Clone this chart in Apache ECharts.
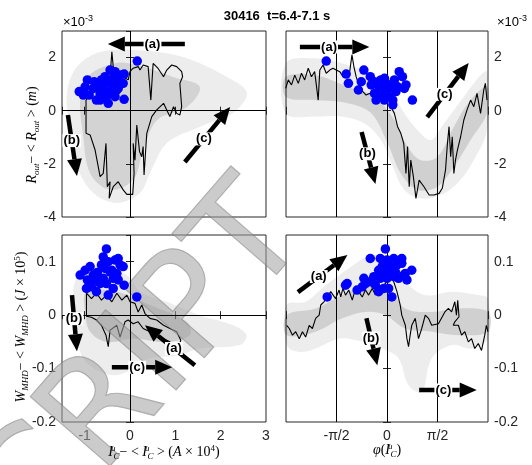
<!DOCTYPE html>
<html>
<head>
<meta charset="utf-8">
<script src="https://cdn.jsdelivr.net/npm/echarts@6/dist/echarts.min.js"></script>
<style>
  html, body { margin: 0; padding: 0; background: #fff; }
  #main { width: 532px; height: 465px; }
</style>
</head>
<body>
<div id="main"></div>
<script>
var PI = Math.PI;

// ---- top left: R_out vs I_C (x in A*1e4, y in m*1e-3)
var rCloudI = [[-1.17,1.65],[-0.66,2.21],[0.22,2.28],[1.17,2.02],[2.14,1.27],[2.58,0.67],[2.27,-0.09],[1.54,-0.61],[0.82,-1.21],[0.44,-2.35],[0.22,-3.1],[-0.29,-3.47],[-0.81,-3.1],[-1.17,-2.1],[-1.32,-0.85],[-1.39,0.67]];
var rCoreI = [[-0.95,1.27],[-0.29,1.8],[0.29,1.65],[0.95,1.27],[1.54,0.9],[1.26,0.14],[0.6,-0.35],[0.29,-1.48],[0.07,-2.6],[-0.44,-2.98],[-0.88,-2.35],[-1.04,-0.85],[-1.1,0.4]];
var rLineI = [[-0.97,0.40],[-0.97,-0.85],[-0.88,-0.91],[-0.77,-1.48],[-0.70,-2.11],[-0.66,-2.48],[-0.59,-2.36],[-0.53,-1.23],[-0.50,-2.86],[-0.44,-2.67],[-0.46,-3.30],[-0.37,-2.86],[-0.26,-2.67],[-0.15,-2.98],[-0.07,-3.15],[0.06,-3.15],[0.09,-2.36],[0.07,-1.23],[0.11,-1.86],[0.15,-0.54],[0.21,-1.54],[0.26,-1.73],[0.29,-1.35],[0.31,-2.42],[0.37,-0.85],[0.48,-0.22],[0.59,0.03],[0.74,0.28],[0.81,0.03],[0.88,-0.22],[0.96,0.15],[1.03,-0.10],[1.10,-0.16],[1.14,0.15],[1.10,1.03],[1.16,1.28],[1.14,1.47],[1.03,1.66],[0.92,1.72],[0.81,1.53],[0.74,1.28],[0.62,1.59],[0.51,1.78],[0.46,0.40],[0.40,1.66],[0.29,1.72],[0.22,1.53],[0.18,1.66],[0.07,1.60],[0.00,1.47],[-0.04,1.16],[-0.15,1.28],[-0.29,1.47],[-0.37,1.66],[-0.40,2.22],[-0.44,1.28],[-0.55,1.03],[-0.66,0.90],[-0.74,0.78],[-0.88,0.59],[-0.97,0.40]];
var rDotsI = [[0.16,1.87],[-1.12,0.72],[-0.99,0.90],[-0.94,1.16],[-0.90,0.59],[-0.81,0.84],[-0.74,0.40],[-0.70,1.03],[-0.63,1.16],[-0.59,0.78],[-0.55,1.28],[-0.52,0.53],[-0.44,1.53],[-0.40,0.97],[-0.44,0.72],[-0.48,0.28],[-0.33,1.47],[-0.29,1.16],[-0.26,0.84],[-0.22,1.34],[-0.13,1.38],[-0.15,1.03],[-0.13,0.43],[-0.33,0.53],[-0.66,0.65],[-0.79,1.09],[-1.03,0.59],[-0.37,1.22],[-0.52,1.03],[-0.29,0.78],[-0.66,0.40]];
var rArrowsI = [[1.21,2.51,-0.49,2.51],[-1.37,-0.16,-1.17,-2.46],[1.21,-1.93,2.21,0.14]];

// ---- top right: R_out vs phase (x in rad)
var rCloudPhi = [[-3.15,1.78],[-2.25,1.97],[-1.22,1.72],[-0.39,1.34],[0.12,0.78],[0.54,-0.10],[0.95,-0.73],[1.36,-1.10],[1.77,-0.48],[2.39,0.53],[2.91,1.34],[3.11,1.47],[3.11,-0.73],[2.70,-1.86],[2.19,-2.73],[1.67,-3.17],[1.05,-3.30],[0.54,-2.98],[0.18,-2.11],[-0.19,-1.10],[-0.70,-0.48],[-1.42,-0.22],[-2.25,-0.22],[-3.15,-0.10]];
var rCorePhi = [[-3.15,1.28],[-2.25,1.34],[-1.22,0.90],[-0.39,0.53],[0.23,-0.35],[0.64,-1.35],[1.05,-1.86],[1.57,-1.73],[2.08,-0.60],[2.60,0.40],[3.11,0.90],[3.11,-0.10],[2.60,-1.10],[2.08,-2.11],[1.57,-2.86],[0.95,-2.98],[0.43,-2.36],[0.02,-1.23],[-0.49,-0.10],[-1.22,0.28],[-2.25,0.40],[-3.15,0.53]];
var rLinePhi = [[-3.15,0.84],[-3.07,1.16],[-2.97,0.97],[-2.87,1.34],[-2.76,1.03],[-2.66,1.41],[-2.56,1.16],[-2.45,1.60],[-2.35,1.28],[-2.25,1.47],[-2.14,0.40],[-2.09,1.53],[-1.99,1.72],[-1.89,1.41],[-1.78,1.53],[-1.68,1.60],[-1.58,1.53],[-1.47,1.47],[-1.37,1.28],[-1.27,1.34],[-1.16,1.47],[-1.09,2.10],[-1.03,1.66],[-0.96,1.28],[-0.86,0.90],[-0.75,0.72],[-0.65,0.59],[-0.55,0.65],[-0.44,0.59],[-0.29,0.72],[-0.13,0.78],[0.02,0.84],[0.12,0.15],[0.23,-0.10],[0.33,-0.60],[0.43,-0.85],[0.52,-1.23],[0.59,-2.36],[0.64,-1.35],[0.69,-2.86],[0.74,-1.86],[0.82,-2.48],[0.90,-3.30],[1.00,-2.61],[1.15,-2.86],[1.31,-3.17],[1.46,-3.17],[1.62,-3.11],[1.72,-2.92],[1.82,-2.23],[1.88,-1.23],[1.93,-0.60],[1.98,-1.73],[2.03,-0.98],[2.08,-2.36],[2.13,-1.86],[2.19,-1.48],[2.29,-0.98],[2.39,-0.35],[2.49,0.03],[2.60,0.40],[2.70,0.15],[2.80,0.65],[2.91,-0.10],[3.01,0.78],[3.06,1.03],[3.11,0.40]];
var rDotsPhi = [[-1.89,1.87],[-1.27,1.38],[-1.20,1.03],[-0.89,0.78],[-0.80,1.09],[-0.72,1.53],[-0.52,1.28],[-0.49,0.97],[-0.39,0.65],[-0.34,0.40],[-0.24,0.84],[-0.19,1.16],[-0.13,0.90],[-0.08,1.22],[-0.03,1.03],[0.02,0.78],[0.07,0.53],[0.12,0.97],[0.18,0.40],[0.23,1.16],[0.28,0.72],[0.38,1.47],[0.48,1.28],[0.54,0.84],[0.59,0.97],[0.79,0.40],[0.18,0.22],[-0.08,0.40],[-0.29,0.47],[-0.19,0.59],[-0.03,0.65],[-0.39,1.09],[0.33,0.90]];
var rArrowsPhi = [[-2.71,2.40,-0.55,2.40],[-0.79,-0.80,-0.36,-2.76],[1.25,-0.24,2.54,1.80]];

// ---- bottom left: W_MHD vs I_C (y in J*1e5)
var wCloudI = [[-1.18,0.069],[-0.66,0.094],[-0.07,0.075],[0.22,0.044],[0.81,0.025],[1.54,0.0],[2.28,-0.019],[2.57,-0.0375],[2.43,-0.056],[1.54,-0.0625],[1.10,-0.075],[0.44,-0.081],[0.07,-0.10],[-0.29,-0.1125],[-0.66,-0.106],[-1.03,-0.081],[-1.18,-0.0375],[-1.25,0.0125]];
var wCoreI = [[-0.96,0.044],[-0.29,0.044],[0.44,0.019],[1.25,-0.0125],[1.32,-0.0375],[0.81,-0.05],[0.07,-0.044],[-0.52,-0.05],[-0.88,-0.031],[-0.99,0.006]];
var wLineI = [[-0.96,0.041],[-0.85,0.031],[-0.74,0.041],[-0.63,0.028],[-0.52,0.0375],[-0.40,0.025],[-0.29,0.041],[-0.18,0.028],[-0.07,0.0375],[0.00,0.025],[0.11,0.022],[0.18,0.006],[0.26,0.019],[0.33,0.003],[0.44,-0.006],[0.59,-0.009],[0.74,-0.019],[0.88,-0.025],[1.03,-0.031],[1.12,-0.047],[1.07,-0.059],[0.99,-0.066],[0.88,-0.05],[0.74,-0.044],[0.59,-0.0375],[0.44,-0.031],[0.29,-0.025],[0.18,-0.0125],[0.07,-0.016],[-0.04,-0.009],[-0.11,-0.0125],[-0.22,-0.041],[-0.29,-0.019],[-0.44,-0.028],[-0.48,-0.059],[-0.53,-0.0375],[-0.63,-0.019],[-0.74,-0.009],[-0.85,-0.004],[-0.96,-0.002],[-0.96,0.041]];
var wDotsI = [[-0.52,0.124],[-0.59,0.109],[-1.10,0.075],[-0.99,0.084],[-0.88,0.091],[-0.94,0.066],[-0.81,0.075],[-0.72,0.080],[-0.74,0.044],[-0.63,0.094],[-0.55,0.0875],[-0.48,0.10],[-0.44,0.081],[-0.37,0.069],[-0.33,0.103],[-0.26,0.106],[-0.22,0.094],[-0.15,0.091],[-0.13,0.056],[-0.26,0.066],[-0.37,0.05],[-0.48,0.0375],[-0.66,0.059],[-0.85,0.053],[-0.77,0.066],[-0.59,0.069],[-0.52,0.059],[-0.96,0.05],[0.15,0.034],[-0.40,0.084],[-0.29,0.078]];
var wArrowsI = [[1.43,-0.094,0.33,-0.019],[-1.28,0.0375,-1.17,-0.0675],[-0.40,-0.0975,0.93,-0.0975]];

// ---- bottom right: W_MHD vs phase
var wCloudPhi = [[-3.12,0.019],[-2.53,0.025],[-1.91,0.056],[-1.19,0.0875],[-0.46,0.1125],[0.15,0.10],[0.57,0.0625],[1.19,0.0375],[2.01,0.044],[2.84,0.0375],[3.14,0.031],[3.14,-0.044],[2.63,-0.0625],[2.01,-0.056],[1.39,-0.081],[1.08,-0.144],[0.67,-0.131],[0.36,-0.081],[-0.15,-0.0625],[-0.77,-0.05],[-1.49,-0.044],[-2.22,-0.0625],[-2.73,-0.069],[-3.12,-0.056]];
var wCorePhi = [[-3.12,0],[-2.22,0.0125],[-1.39,0.0375],[-0.67,0.056],[0.05,0.05],[0.57,0.0125],[1.39,0.006],[2.22,0.0125],[3.14,0.006],[3.14,-0.031],[2.22,-0.0375],[1.39,-0.031],[0.57,-0.025],[-0.05,0],[-0.67,0.006],[-1.39,-0.006],[-2.22,-0.031],[-3.12,-0.0375]];
var wLinePhi = [[-3.12,-0.019],[-3.04,-0.025],[-2.94,-0.0375],[-2.84,-0.031],[-2.73,-0.044],[-2.63,-0.031],[-2.53,-0.041],[-2.42,-0.019],[-2.32,-0.025],[-2.22,-0.006],[-2.11,0.0],[-2.06,0.019],[-1.96,0.025],[-1.86,0.034],[-1.75,0.044],[-1.60,0.031],[-1.49,0.047],[-1.44,0.034],[-1.37,0.05],[-1.29,0.0375],[-1.19,0.047],[-1.08,0.028],[-0.98,0.05],[-0.88,0.044],[-0.77,0.034],[-0.67,0.047],[-0.57,0.0375],[-0.46,0.05],[-0.36,0.0375],[-0.26,0.05],[-0.15,0.056],[-0.05,0.059],[0.10,0.075],[0.21,0.0625],[0.31,0.044],[0.41,0.019],[0.46,0.0],[0.57,-0.019],[0.62,-0.044],[0.67,-0.059],[0.72,-0.0375],[0.77,-0.019],[0.88,-0.006],[0.93,-0.025],[0.98,-0.044],[1.08,-0.025],[1.19,0.0],[1.29,-0.006],[1.39,-0.019],[1.60,-0.016],[1.80,0.006],[1.91,0.0125],[2.01,0.006],[2.11,0.025],[2.16,0.0],[2.20,0.028],[2.24,-0.003],[2.11,-0.0125],[2.06,-0.019],[2.22,-0.019],[2.32,-0.0375],[2.42,-0.031],[2.53,-0.05],[2.63,-0.044],[2.73,-0.0625],[2.84,-0.053],[2.94,-0.066],[3.04,-0.0375],[3.09,-0.019],[3.14,-0.031]];
var wDotsPhi = [[-0.05,0.124],[-0.52,0.106],[-0.21,0.106],[0.0,0.103],[0.21,0.106],[0.46,0.106],[0.46,0.097],[0.31,0.094],[0.10,0.091],[-0.15,0.091],[-0.26,0.084],[-0.10,0.081],[0.05,0.081],[0.26,0.081],[0.36,0.069],[0.52,0.075],[0.57,0.078],[0.77,0.084],[0.62,0.066],[0.21,0.072],[0.0,0.069],[-0.21,0.069],[-0.41,0.072],[-0.52,0.0625],[-0.72,0.069],[-0.77,0.053],[-0.93,0.047],[-1.29,0.056],[-1.24,0.059],[-0.36,0.056],[-0.26,0.044],[-0.10,0.05],[0.05,0.05],[0.15,0.034],[-1.86,0.034],[-0.67,0.059]];
var wArrowsPhi = [[-2.77,0.043,-1.23,0.1125],[-0.64,-0.0056,-0.30,-0.094],[1.00,-0.14,2.79,-0.14]];

var arrowLabels = ['(a)', '(b)', '(c)'];
var phiTicks = {'-1': '-\u03c0/2', '0': '0', '1': '\u03c0/2'};

var axisCol = '#262626';
var sans = 'Liberation Sans';

function phiLabel(v) {
  var k = Math.round(v / (PI / 2));
  return phiTicks[k] !== undefined ? phiTicks[k] : '';
}

function mkX(grid, pos, labels, kind) {
  var a = {
    type: 'value', gridIndex: grid, position: pos,
    axisLine: { show: false }, splitLine: { show: false },
    axisTick: { show: true, inside: true, length: 4, lineStyle: { color: axisCol } },
    axisLabel: { show: labels, color: axisCol, fontSize: 14, fontFamily: sans, margin: 7 }
  };
  if (kind === 'phi') {
    a.min = -PI; a.max = PI; a.interval = PI / 2;
    a.axisLabel.formatter = phiLabel;
  } else {
    a.min = -1.5; a.max = 3; a.splitNumber = 5;
    a.axisLabel.showMinLabel = false;
  }
  return a;
}

function mkY(grid, pos, labels, kind) {
  var a = {
    type: 'value', gridIndex: grid, position: pos,
    axisLine: { show: false }, splitLine: { show: false },
    axisTick: { show: true, inside: true, length: 4, lineStyle: { color: axisCol } },
    axisLabel: { show: labels, color: axisCol, fontSize: 14, fontFamily: sans, margin: 6, showMaxLabel: false }
  };
  if (kind === 'r') { a.min = -4; a.max = 3; a.interval = 2; }
  else { a.min = -0.2; a.max = 0.15; a.interval = 0.1; }
  return a;
}

function cloud(g, pts, color) {
  return {
    type: 'custom', coordinateSystem: 'cartesian2d', xAxisIndex: 2 * g, yAxisIndex: 2 * g,
    data: pts, silent: true, z: 1,
    renderItem: function (params, api) {
      if (params.dataIndex !== 0) return null;
      return {
        type: 'polygon',
        shape: { points: pts.map(function (p) { return api.coord(p); }), smooth: 0.35 },
        style: { fill: color }
      };
    }
  };
}

function traj(g, pts, refs) {
  return {
    type: 'line', xAxisIndex: 2 * g, yAxisIndex: 2 * g, data: pts, z: 3,
    showSymbol: false, symbol: 'none', silent: true,
    lineStyle: { color: '#000', width: 1.1 },
    markLine: {
      silent: true, symbol: 'none', label: { show: false },
      lineStyle: { color: '#000', width: 1, type: 'solid' },
      data: refs
    }
  };
}

function dots(g, pts) {
  return {
    type: 'scatter', xAxisIndex: 2 * g, yAxisIndex: 2 * g, data: pts, z: 6,
    symbolSize: 9.5, itemStyle: { color: '#0000ff', opacity: 1 }, silent: true
  };
}

function arrows(g, list) {
  return {
    type: 'custom', coordinateSystem: 'cartesian2d', xAxisIndex: 2 * g, yAxisIndex: 2 * g,
    data: list, z: 10, silent: true,
    encode: { x: [0, 2], y: [1, 3] },
    renderItem: function (params, api) {
      var p1 = api.coord([api.value(0), api.value(1)]);
      var p2 = api.coord([api.value(2), api.value(3)]);
      var dx = p2[0] - p1[0], dy = p2[1] - p1[1];
      var len = Math.sqrt(dx * dx + dy * dy);
      var ux = dx / len, uy = dy / len;
      var hl = 17, hw = 7.5;
      var bx = p2[0] - ux * hl, by = p2[1] - uy * hl;
      var mx = p1[0] + dx * 0.42, my = p1[1] + dy * 0.42;
      return {
        type: 'group',
        children: [
          { type: 'line', shape: { x1: p1[0], y1: p1[1], x2: bx, y2: by },
            style: { stroke: '#000', lineWidth: 4.5 } },
          { type: 'polygon', shape: { points: [[p2[0], p2[1]], [bx - uy * hw, by + ux * hw], [bx + uy * hw, by - ux * hw]] },
            style: { fill: '#000' } },
          { type: 'text', x: mx, y: my,
            style: { text: arrowLabels[params.dataIndex], fill: '#000', font: 'bold 13px "Liberation Sans"',
              align: 'center', verticalAlign: 'middle', backgroundColor: '#fff', padding: [0, 1] } }
        ]
      };
    }
  };
}

var vRefs = [{ xAxis: -PI / 2 }, { xAxis: 0 }, { xAxis: PI / 2 }];
var zRefs = [{ xAxis: 0 }, { yAxis: 0 }];

var mathRich = {
  it: { fontFamily: 'Liberation Serif', fontStyle: 'italic', fontSize: 14, color: '#333', lineHeight: 20, verticalAlign: 'middle' },
  rm: { fontFamily: 'Liberation Serif', fontSize: 14, color: '#333', lineHeight: 20, verticalAlign: 'middle' },
  sb: { fontFamily: 'Liberation Serif', fontStyle: 'italic', fontSize: 9, color: '#333', lineHeight: 20, verticalAlign: 'bottom', padding: [0, 0, 1, 0] },
  sp: { fontFamily: 'Liberation Serif', fontSize: 9, color: '#333', lineHeight: 20, verticalAlign: 'top', padding: [2, 0, 0, 0] },
  spz: { fontFamily: 'Liberation Serif', fontStyle: 'italic', fontSize: 9, color: '#333', lineHeight: 20, verticalAlign: 'top', padding: [2, 0, 0, 0], width: 0.5 }
};
var supRich = {
  n: { fontFamily: sans, fontSize: 13, color: axisCol },
  s: { fontFamily: sans, fontSize: 9, color: axisCol, verticalAlign: 'top', lineHeight: 16 }
};

var chart = echarts.init(document.getElementById('main'), null, { renderer: 'canvas' });
chart.setOption({
  animation: false,
  backgroundColor: '#fff',
  grid: [
    { left: 62, top: 31, width: 204, height: 186, show: true, borderColor: axisCol, borderWidth: 1, backgroundColor: 'transparent' },
    { left: 286, top: 31, width: 202, height: 186, show: true, borderColor: axisCol, borderWidth: 1, backgroundColor: 'transparent' },
    { left: 62, top: 235, width: 204, height: 187, show: true, borderColor: axisCol, borderWidth: 1, backgroundColor: 'transparent' },
    { left: 286, top: 235, width: 202, height: 187, show: true, borderColor: axisCol, borderWidth: 1, backgroundColor: 'transparent' }
  ],
  xAxis: [
    mkX(0, 'bottom', false, 'i'), mkX(0, 'top', false, 'i'),
    mkX(1, 'bottom', false, 'phi'), mkX(1, 'top', false, 'phi'),
    mkX(2, 'bottom', true, 'i'), mkX(2, 'top', false, 'i'),
    mkX(3, 'bottom', true, 'phi'), mkX(3, 'top', false, 'phi')
  ],
  yAxis: [
    mkY(0, 'left', true, 'r'), mkY(0, 'right', false, 'r'),
    mkY(1, 'right', true, 'r'), mkY(1, 'left', false, 'r'),
    mkY(2, 'left', true, 'w'), mkY(2, 'right', false, 'w'),
    mkY(3, 'right', true, 'w'), mkY(3, 'left', false, 'w')
  ],
  series: [
    cloud(0, rCloudI, 'rgba(0,0,0,0.07)'), cloud(0, rCoreI, 'rgba(0,0,0,0.11)'),
    traj(0, rLineI, zRefs), dots(0, rDotsI), arrows(0, rArrowsI),
    cloud(1, rCloudPhi, 'rgba(0,0,0,0.07)'), cloud(1, rCorePhi, 'rgba(0,0,0,0.12)'),
    traj(1, rLinePhi, vRefs), dots(1, rDotsPhi), arrows(1, rArrowsPhi),
    cloud(2, wCloudI, 'rgba(0,0,0,0.07)'), cloud(2, wCoreI, 'rgba(0,0,0,0.13)'),
    traj(2, wLineI, zRefs), dots(2, wDotsI), arrows(2, wArrowsI),
    cloud(3, wCloudPhi, 'rgba(0,0,0,0.07)'), cloud(3, wCorePhi, 'rgba(0,0,0,0.12)'),
    traj(3, wLinePhi, vRefs), dots(3, wDotsPhi), arrows(3, wArrowsPhi)
  ],
  graphic: [
    { type: 'text', x: 277, y: 16, z: 20,
      style: { text: '30416  t=6.4-7.1 s', font: 'bold 13px "Liberation Sans"', fill: '#000', align: 'center', verticalAlign: 'middle' } },
    { type: 'text', x: 63, y: 22, z: 20,
      style: { text: '{n|\u00d710}{s|-3}', rich: supRich, align: 'left', verticalAlign: 'middle' } },
    { type: 'text', x: 497, y: 22, z: 20,
      style: { text: '{n|\u00d710}{s|-3}', rich: supRich, align: 'left', verticalAlign: 'middle' } },
    { type: 'text', x: 32, y: 135, rotation: PI / 2, z: 20,
      style: { text: '{it|R}{sb|out}{rm|\u2212 < }{it|R}{sb|out}{rm| > (}{it|m}{rm|)}', rich: mathRich, align: 'center', verticalAlign: 'middle' } },
    { type: 'text', x: 21, y: 327, rotation: PI / 2, z: 20,
      style: { text: '{it|W}{sb|MHD}{rm|\u2212 < }{it|W}{sb|MHD}{rm| > (}{it|J}{rm| \u00d7 10}{sp|5}{rm|)}', rich: mathRich, align: 'center', verticalAlign: 'middle' } },
    { type: 'text', x: 164, y: 452, z: 20,
      style: { text: '{it|I}{spz|u}{sb|C}{rm|\u2212 < }{it|I}{spz|u}{sb|C}{rm| > (}{it|A}{rm| \u00d7 10}{sp|4}{rm|)}', rich: mathRich, align: 'center', verticalAlign: 'middle' } },
    { type: 'text', x: 387, y: 450, z: 20,
      style: { text: '{it|\u03c6}{rm|(}{it|I}{spz|u}{sb|C}{rm|)}', rich: mathRich, align: 'center', verticalAlign: 'middle' } },
    // faint watermark letters across the lower left
    { type: 'text', x: 282, y: 211, rotation: 0.855, z: 5, silent: true,
      style: { text: 'SCRIPT', font: '145px "DejaVu Sans"', fill: 'rgba(160,160,160,0.55)', stroke: 'rgba(110,110,110,0.5)', lineWidth: 1.2,
        align: 'right', verticalAlign: 'middle' } }
  ]
});
</script>
</body>
</html>
